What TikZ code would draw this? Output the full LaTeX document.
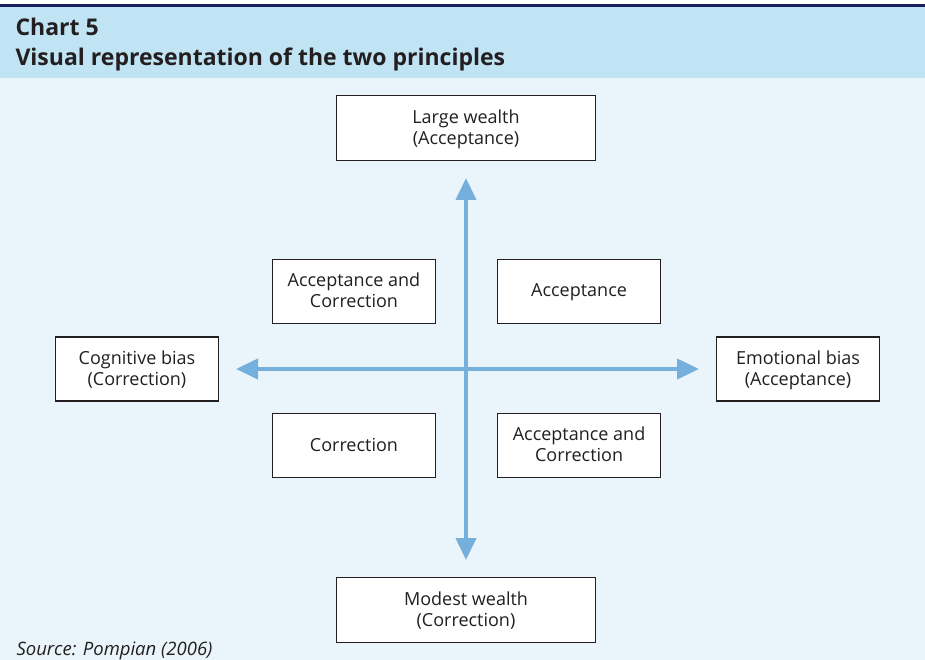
\documentclass[tikz,border=0pt]{standalone}
\usepackage{fontspec}
\setmainfont{Open Sans}
\usetikzlibrary{arrows.meta, positioning}

\definecolor{bandblue}{HTML}{C0E4F3}
\definecolor{paleblue}{HTML}{E9F4FB}
\definecolor{navyline}{HTML}{1E1E5A}
\definecolor{arrowblue}{HTML}{74B0DB}
\definecolor{inkgrey}{HTML}{231F20}

\begin{document}
\begin{tikzpicture}[
    x=1pt, y=-1pt,
    every node/.style={text=inkgrey},
    bigbox/.style={draw=inkgrey, line width=1.1pt, fill=white, minimum width=259pt, minimum height=65pt, align=center, text depth=2pt, font=\fontsize{18}{21}\selectfont},
    smallbox/.style={bigbox, minimum width=163pt, minimum height=64pt},
    titletext/.style={anchor=base west, font=\fontsize{23}{30}\selectfont\bfseries},
    axis/.style={line width=4pt, draw=arrowblue, {Triangle[length=22pt,width=20pt]}-{Triangle[length=22pt,width=20pt]}, shorten >=17pt, shorten <=17pt}
]

   % Background and title band
   \useasboundingbox (0,0) rectangle (925,660);
   \fill[paleblue] (0,78) rectangle (925,660);
   \fill[bandblue] (0,7) rectangle (925,78);
   \fill[navyline] (0,4.5) rectangle (925,7);
   \node[titletext] (chart) at (12,36) {Chart 5};
   \node[titletext] (title) at (12,66) {Visual representation of the two principles};

   % Centre of the cross
   \coordinate (o) at (466,369);

   % Outer boxes
   \node[bigbox] (large) [above=208pt of o] {Large wealth\\(Acceptance)};
   \node[bigbox] (modest) [below=208pt of o] {Modest wealth\\(Correction)};
   \node[smallbox] (cognitive) [left=247pt of o] {Cognitive bias\\(Correction)};
   \node[smallbox] (emotional) [right=250pt of o] {Emotional bias\\(Acceptance)};

   % Quadrant boxes
   \node[smallbox] (ul) [above left=45pt and 30pt of o] {Acceptance and\\Correction};
   \node[smallbox] (ur) [above right=45pt and 31pt of o] {Acceptance};
   \node[smallbox] (ll) [below left=44pt and 30pt of o] {Correction};
   \node[smallbox] (lr) [below right=44pt and 31pt of o] {Acceptance and\\Correction};

   % Axes
   \draw[axis] (large.south -| o) -- (modest.north -| o);
   \draw[axis] (cognitive) -- (emotional);

   % Source
   \node[anchor=base west, font=\fontsize{18.5}{21}\selectfont\itshape] (source) at (13,655) {Source: Pompian (2006)};
\end{tikzpicture}
\end{document}
